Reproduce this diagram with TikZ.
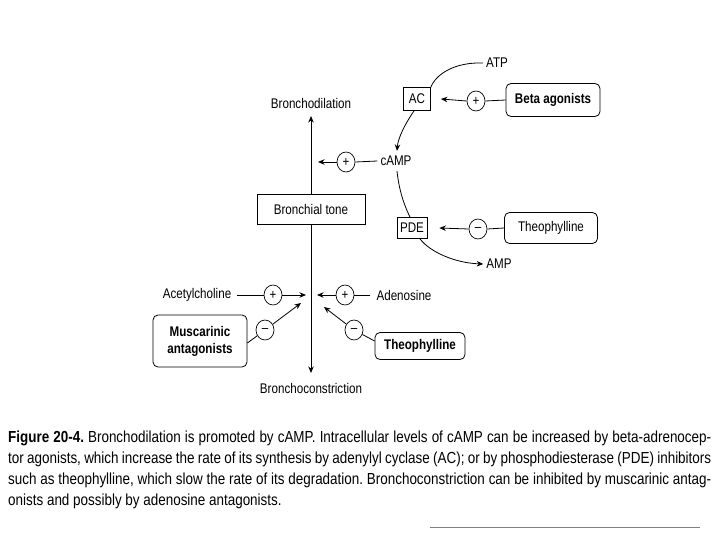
\documentclass[tikz,border=0pt]{standalone}
\usepackage{fontspec}
\newfontfamily\dfont{Liberation Sans}[FakeStretch=0.83]
\newfontfamily\cfont{Liberation Sans}[FakeStretch=0.84]
\usetikzlibrary{arrows.meta,shapes.geometric}
\begin{document}
\frenchspacing
\begin{tikzpicture}[x=1pt,y=-1pt,
  every node/.style={font=\dfont\fontsize{14}{16}\selectfont, inner sep=3pt},
  bx/.style={draw, line width=0.8pt, inner sep=0pt},
  rb/.style={draw, line width=0.8pt, inner sep=0pt, rounded corners=5pt, font=\dfont\bfseries\fontsize{14}{16}\selectfont},
  sgn/.style={draw, line width=0.7pt, ellipse, inner sep=0pt, minimum width=18pt, minimum height=20pt, font=\dfont\fontsize{14}{14}\selectfont},
  con/.style={line width=0.8pt},
  arr/.style={line width=0.8pt, -{Stealth[length=6.5pt,width=5.5pt]}}
]
\useasboundingbox (0,0) rectangle (720,540);
% main axis
\node (bd) at (311,103) {Bronchodilation};
\node (bc) at (311,388) {Bronchoconstriction};
\node[bx, minimum width=108pt, minimum height=30pt] (bt) at (311,209) {Bronchial tone};
\coordinate (top) at (311,116);
\coordinate (bot) at (311,373);
\draw[arr] (bt.north) -- (top);
\draw[arr] (bt.south) -- (bot);
% upper cycle
\node (atp) at (497,63) {ATP};
\node[bx, minimum width=27pt, minimum height=23pt] (ac) at (417,99) {AC};
\node (camp) at (396,161) {cAMP};
\node[bx, minimum width=30pt, minimum height=21pt] (pde) at (412,228) {PDE};
\node (amp) at (499,264) {AMP};
\node[rb, minimum width=94pt, minimum height=33pt] (beta) at (553,100) {Beta agonists};
\node[bx, rounded corners=5pt, minimum width=93pt, minimum height=31pt] (theo1) at (551,228) {Theophylline};
\node[sgn] (p1) at (346,162) {+};
\node[sgn] (p2) at (476,101) {+};
\node[sgn] (m1) at (478,229) {\textendash};
\coordinate (t1) at (318,162);
\draw[con] (camp.west) -- (p1.east);
\draw[arr] (p1.west) -- (t1);
\draw[con] (beta.west) -- (p2.east);
\draw[arr] (p2.west) -- ([xshift=10pt]ac.east);
\draw[con] (theo1.west) -- (m1.east);
\draw[arr] (m1.west) -- ([xshift=12pt]pde.east);
\draw[con] (atp.west) .. controls (455,62) and (436,74) .. (ac.north east);
\draw[arr] ([xshift=-3pt]ac.south) .. controls (405,124) and (398,138) .. ([xshift=1pt,yshift=2pt]camp.north);
\draw[con] ([xshift=1pt,yshift=-2pt]camp.south) .. controls (399,190) and (404,205) .. ([xshift=-2pt]pde.north);
\draw[arr] ([xshift=8pt]pde.south) .. controls (430,252) and (455,263) .. (amp.west);
% lower part
\node (ach) at (197,295) {Acetylcholine};
\node (ade) at (404,295) {Adenosine};
\node[rb, align=center, minimum width=94pt, minimum height=52pt] (musc) at (200,341) {Muscarinic\\[1pt]antagonists};
\node[rb, minimum width=90pt, minimum height=27pt] (theo2) at (420,346) {Theophylline};
\node[sgn] (p3) at (273,295) {+};
\node[sgn] (p4) at (345,295) {+};
\node[sgn] (m2) at (265,330) {\textendash};
\node[sgn] (m3) at (354,330) {\textendash};
\coordinate (t3) at (306,295);
\coordinate (t4) at (317,295);
\coordinate (t5) at (301,303);
\coordinate (t6) at (324,307);
\draw[con] (ach.east) ++(3pt,0) -- (p3.west);
\draw[arr] (p3.east) -- (t3);
\draw[con] (ade.west) ++(-3pt,0) -- (p4.east);
\draw[arr] (p4.west) -- (t4);
\draw[con] ([yshift=-2pt]musc.east) -- (m2);
\draw[arr] (m2) -- (t5);
\draw[con] ([yshift=5pt]theo2.west) -- (m3);
\draw[arr] (m3) -- (t6);
% caption
\begin{scope}[every node/.style={font=\cfont\fontsize{16}{18}\selectfont, inner sep=0pt, anchor=base west}]
\node (c1) at (8,442) {\makebox[703pt][s]{\textbf{Figure 20-4.} Bronchodilation is promoted by cAMP. Intracellular levels of cAMP can be increased by beta-adrenocep-}};
\node (c2) at (8,463) {\makebox[703pt][s]{tor agonists, which increase the rate of its synthesis by adenylyl cyclase (AC); or by phosphodiesterase (PDE) inhibitors}};
\node (c3) at (8,484) {\makebox[703pt][s]{such as theophylline, which slow the rate of its degradation. Bronchoconstriction can be inhibited by muscarinic antag-}};
\node (c4) at (8,505) {onists and possibly by adenosine antagonists.};
\end{scope}
\draw[gray, line width=1pt] (430,527) -- (700,527);
\end{tikzpicture}
\end{document}
